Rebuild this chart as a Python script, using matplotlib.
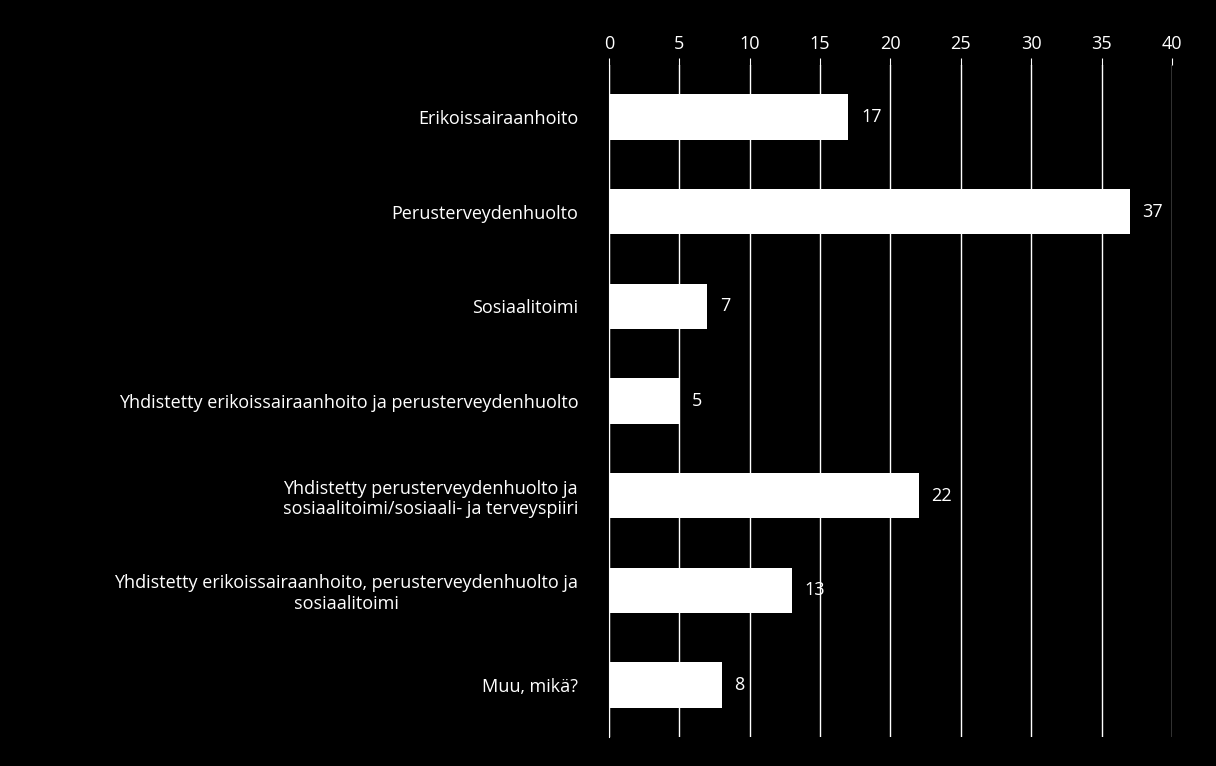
import matplotlib.pyplot as plt

categories = [
    "Erikoissairaanhoito",
    "Perusterveydenhuolto",
    "Sosiaalitoimi",
    "Yhdistetty erikoissairaanhoito ja perusterveydenhuolto",
    "Yhdistetty perusterveydenhuolto ja\nsosiaalitoimi/sosiaali- ja terveyspiiri",
    "Yhdistetty erikoissairaanhoito, perusterveydenhuolto ja\nsosiaalitoimi",
    "Muu, mikä?",
]
values = [17, 37, 7, 5, 22, 13, 8]
xticks = [0, 5, 10, 15, 20, 25, 30, 35, 40]

plt.rcParams["font.family"] = "Open Sans"
fig = plt.figure(figsize=(12.16, 7.66), dpi=100, facecolor="black")
ax = fig.add_axes([0.5008, 0.038, 0.463, 0.877], facecolor="black")

pos = list(range(len(categories)))
ax.barh(pos, values, height=0.48, color="white", zorder=3)
for p, v in zip(pos, values):
    ax.text(v + 0.9, p, str(v), color="white", fontsize=13, va="center", ha="left", zorder=4)

ax.set_xlim(0, 40)
ax.set_ylim(6.55, -0.55)
ax.set_xticks(xticks)
ax.xaxis.tick_top()
ax.tick_params(axis="x", colors="white", labelsize=13, length=5, direction="out")
ax.set_yticks(pos)
ax.set_yticklabels(categories, color="white", fontsize=13, multialignment="center")
ax.tick_params(axis="y", length=0, pad=22)
ax.grid(axis="x", color="white", linewidth=1, zorder=0)
for s in ["right", "bottom", "top"]:
    ax.spines[s].set_visible(False)
ax.spines["left"].set_color("white")

fig.savefig("out.png", facecolor="black")
